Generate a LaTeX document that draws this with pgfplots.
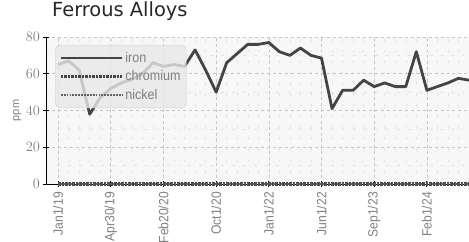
\documentclass[border=0pt]{standalone}
\usepackage{pgfplots}
\pgfplotsset{compat=1.18}
\usepackage{fontspec}
\setmainfont{Liberation Sans}
\newfontfamily\titlefont{DejaVu Sans}
\newfontfamily\narrowfont[FakeStretch=0.9]{Liberation Sans}
\definecolor{lbl}{HTML}{808080}
\definecolor{ln}{HTML}{444444}
\pgfplotstableread{
x y
0 65
1 67
2 62
3 38
4 47
5 52
6 55
7 57
8 60
9 66
10 64
11 65
12 64
13 73
14 62
15 50
16 66
17 71
18 76
19 76
20 77
21 72
22 70
23 74
24 70
25 68.5
26 41
27 51
28 51
29 56.5
30 53
31 55
32 53
33 53
34 72
35 51
36 53
37 55
38 57.5
39 56.5
}\iron
\pgfplotstableread{
x y
0 0
39 0
}\zero
\begin{document}
\begin{tikzpicture}
\useasboundingbox (-46bp,-58bp) rectangle (423bp,184bp);
\begin{axis}[
  at={(0,0)}, anchor=south west,
  scale only axis, width=423bp, height=147bp,
  xmin=-1.15, xmax=39, ymin=0, ymax=80,
  axis lines*=left,
  axis line style={black, line width=0.8pt, -},
  axis background/.style={fill=black!3},
  xtick={0,5,10,15,20,25,30,35},
  xticklabels={Jan1/19,Apr30/19,Feb20/20,Oct1/20,Jan1/22,Jun1/22,Sep1/23,Feb1/24},
  minor xtick={0,...,39},
  ytick={0,20,40,60,80},
  minor ytick={10,30,50,70},
  tick align=center, major tick length=6bp,
  minor tick length=0pt,
  tick style={black, line width=0.8pt},
  grid=both,
  major grid style={dashed, gray!45, line width=0.6pt},
  minor grid style={dash pattern=on 3pt off 8pt, gray!22, line width=0.5pt},
  ticklabel style={font=\narrowfont\fontsize{13.5}{15}\selectfont, text=lbl},
  xticklabel style={yshift=-5bp, rotate=90, anchor=east, inner sep=0pt},
  yticklabel style={anchor=east, inner sep=0pt, xshift=-3bp},
  ylabel={ppm},
  ylabel style={font=\fontsize{11}{12}\selectfont, text=lbl, at={(axis description cs:-0.068,0.5)}, anchor=center},
  title={\titlefont Ferrous Alloys},
  title style={at={(axis description cs:0,1)}, anchor=base west, xshift=6bp, yshift=15bp, inner sep=0pt, font=\fontsize{19.5}{21}\selectfont, text=black!85},
  legend style={at={(axis description cs:0.0213,0.946)}, anchor=north west,
    fill=black!9, fill opacity=0.8, text opacity=1, draw=black!18, rounded corners=5bp,
    font=\narrowfont\fontsize{14}{15}\selectfont, text=lbl, inner xsep=4bp, inner ysep=5bp,
    row sep=3bp, legend cell align=left},
  legend image code/.code={\draw[#1] (0bp,0bp) -- (61bp,0bp);},
  clip=false,
]
\addplot[ln, line width=2.8bp, line join=round] table[x=x,y=y] {\iron};
\addlegendentry{iron}
\addplot[ln, line width=3.2bp, dash pattern=on 2.4bp off 1.1bp] table[x=x,y=y] {\zero};
\addlegendentry{chromium}
\addplot[ln!85, line width=2.4bp, dash pattern=on 1.8bp off 1.1bp] table[x=x,y=y] {\zero};
\addlegendentry{nickel}
\end{axis}
\end{tikzpicture}
\end{document}
